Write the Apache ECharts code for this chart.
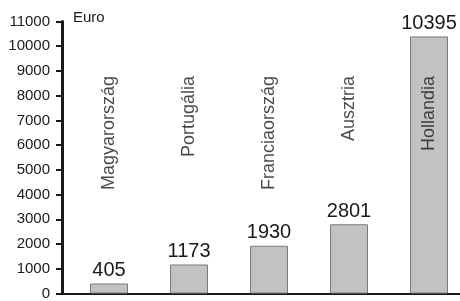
<!DOCTYPE html>
<html>
<head>
<meta charset="utf-8">
<script src="https://cdn.jsdelivr.net/npm/echarts@6/dist/echarts.min.js"></script>
<style>
html,body{margin:0;padding:0;background:#fff;}
#c{width:460px;height:301px;}
</style>
</head>
<body>
<div id="c"></div>
<script>
const categories = ['Magyarország', 'Portugália', 'Franciaország', 'Ausztria', 'Hollandia'];
const values = [405, 1173, 1930, 2801, 10395];
const yTicks = [0, 1000, 2000, 3000, 4000, 5000, 6000, 7000, 8000, 9000, 10000, 11000];
const unitLabel = 'Euro';

const FONT = '"Liberation Sans", Arial, sans-serif';
const chart = echarts.init(document.getElementById('c'), null, {renderer: 'canvas'});
const nameAnchor = 8800; // vertical anchor (in axis units) for the top end of the rotated names

chart.setOption({
  animation: false,
  backgroundColor: '#fff',
  grid: {left: 62, right: 0, top: 21.5, bottom: 4, containLabel: false},
  xAxis: {
    type: 'value',
    min: -0.5875,
    max: categories.length - 0.6125,
    axisLine: {show: true, onZero: false, lineStyle: {color: '#1a1a1a', width: 2}},
    axisTick: {show: false},
    axisLabel: {show: false},
    splitLine: {show: false}
  },
  yAxis: {
    type: 'value',
    min: yTicks[0],
    max: yTicks[yTicks.length - 1],
    interval: 1000,
    name: unitLabel,
    nameLocation: 'end',
    nameGap: 4,
    nameTextStyle: {fontFamily: FONT, fontSize: 15, color: '#1a1a1a', align: 'left', verticalAlign: 'middle', padding: [0, 0, 0, 11]},
    axisLine: {show: true, onZero: false, lineStyle: {color: '#1a1a1a', width: 3}},
    axisTick: {show: true, length: 6, lineStyle: {color: '#1a1a1a', width: 2}},
    axisLabel: {fontFamily: FONT, fontSize: 15, color: '#1a1a1a', margin: 12, formatter: v => String(v)},
    splitLine: {show: false}
  },
  series: [
    {
      type: 'bar',
      barWidth: 38,
      data: values.map((v, i) => [i, v]),
      itemStyle: {color: '#c2c2c2', borderColor: '#7a7a7a', borderWidth: 1},
      label: {show: true, position: 'top', distance: 3, fontFamily: FONT, fontSize: 20, color: '#1a1a1a'}
    },
    {
      type: 'scatter',
      symbolSize: 0,
      silent: true,
      data: categories.map((c, i) => [i, nameAnchor]),
      label: {
        show: true,
        position: [0, 0],
        rotate: 90,
        align: 'right',
        verticalAlign: 'middle',
        fontFamily: FONT,
        fontSize: 18,
        color: '#1a1a1a',
        formatter: p => categories[p.dataIndex]
      }
    }
  ]
});
</script>
</body>
</html>
